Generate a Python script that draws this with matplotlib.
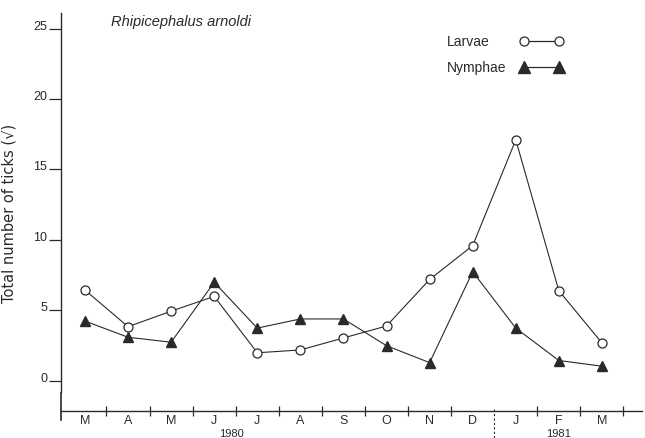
import matplotlib
matplotlib.use('Agg')
import matplotlib.pyplot as plt
import matplotlib.transforms as mtransforms

plt.rcParams['font.family'] = ['Liberation Sans', 'DejaVu Sans']

months = ['M', 'A', 'M', 'J', 'J', 'A', 'S', 'O', 'N', 'D', 'J', 'F', 'M']
larvae = [6.45, 3.85, 4.95, 6.0, 2.0, 2.2, 3.05, 3.9, 7.2, 9.6, 17.1, 6.4, 2.7]
nymphae = [4.25, 3.1, 2.75, 7.0, 3.75, 4.4, 4.4, 2.5, 1.3, 7.75, 3.75, 1.45, 1.05]
years = ['1980', '1981']
year_pos = [3.4, 11.0]

ink = '#2a2a2a'

fig = plt.figure(figsize=(6.45, 4.39), dpi=100)
# axes box in pixels: left 61, right 642, top 14, bottom 412
ax = fig.add_axes([61/645, (439-412)/439, (642-61)/645, (412-14)/439])

x = list(range(len(months)))
ax.plot(x, larvae, '-o', color=ink, lw=0.8, ms=6.5, mfc='white', mec=ink,
        mew=0.9)
ax.plot(x, nymphae, '-^', color=ink, lw=0.8, ms=7.5, mfc=ink, mec=ink)

ax.set_xlim(-0.556, 12.93)
ax.set_ylim(-2.13, 26.1)

# spines
ax.spines['top'].set_visible(False)
ax.spines['right'].set_visible(False)
ax.spines['left'].set_bounds(-0.8, 26.1)
for s in ['left', 'bottom']:
    ax.spines[s].set_color(ink)
    ax.spines[s].set_linewidth(1.0)

# short left segment crossing the month band
ax.plot([-0.556, -0.556], [-0.85, -2.8], color=ink, lw=1.2, clip_on=False)

ax.set_yticks([0, 5, 10, 15, 20, 25])
ax.tick_params(axis='y', direction='out', length=9, width=0.9, colors=ink,
               labelsize=9, pad=1)
for lbl in ax.get_yticklabels():
    lbl.set_va('baseline')

# month band: division ticks (major), labels on minor ticks
divs = [i + 0.5 for i in range(len(months)) if i != 9]
ax.set_xticks(divs)
ax.set_xticklabels([])
ax.tick_params(axis='x', which='major', direction='inout', length=6.5,
               width=0.9, colors=ink)
ax.set_xticks(x, minor=True)
ax.set_xticklabels(months, minor=True)
ax.tick_params(axis='x', which='minor', length=0, labelsize=9, pad=2,
               labelcolor=ink)

# dashed separator between the years
trans = mtransforms.blended_transform_factory(ax.transData, ax.transAxes)
ax.plot([9.5, 9.5], [0.005, -0.07], color=ink, lw=0.8, ls=(0, (2, 2)),
        transform=trans, clip_on=False)

for yr, xp in zip(years, year_pos):
    ax.text(xp, -0.0675, yr, transform=trans, ha='center', va='bottom',
            fontsize=8, color=ink)

ax.set_ylabel('Total number of ticks (\u221a)', fontsize=10.5, color=ink,
              labelpad=12, family=['DejaVu Sans'])

ax.text(0.086, 0.98, 'Rhipicephalus arnoldi', transform=ax.transAxes,
        fontsize=10.5, style='italic', color=ink, va='center')

# legend key, drawn in axes fractions
ax.text(0.664, 0.930, 'Larvae', transform=ax.transAxes, fontsize=10,
        color=ink, va='center')
ax.plot([0.797, 0.857], [0.930, 0.930], '-o', color=ink, lw=0.9, ms=6.5,
        mfc='white', mec=ink, mew=0.9, transform=ax.transAxes, clip_on=False)
ax.text(0.664, 0.864, 'Nymphae', transform=ax.transAxes, fontsize=10,
        color=ink, va='center')
ax.plot([0.797, 0.857], [0.864, 0.864], '-^', color=ink, lw=0.9, ms=8,
        mfc=ink, mec=ink, transform=ax.transAxes, clip_on=False)

fig.savefig('out.png', dpi=100)
